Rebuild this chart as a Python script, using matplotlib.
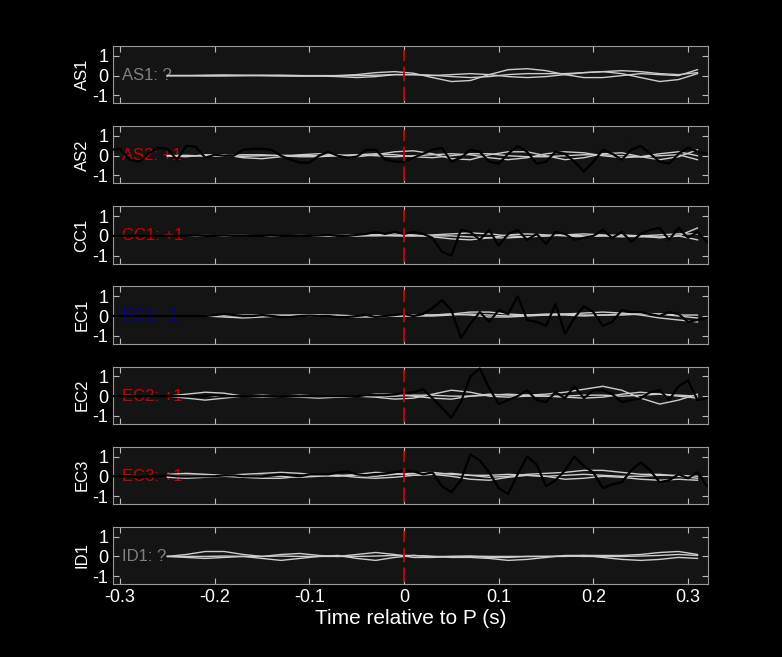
import numpy as np
import matplotlib.pyplot as plt

plt.rcParams['font.family'] = ['Liberation Sans', 'DejaVu Sans']

stations = ['AS1', 'AS2', 'CC1', 'EC1', 'EC2', 'EC3', 'ID1']
labels = ['AS1: ?', 'AS2: +1', 'CC1: +1', 'EC1: -1', 'EC2: +1', 'EC3: +1', 'ID1: ?']
label_colors = ['#808080', '#cc0000', '#cc0000', '#0000aa', '#cc0000', '#cc0000', '#808080']

# gray traces: samples every 0.02 s from -0.25 to 0.31
t_gray = np.round(np.arange(-0.25, 0.3101, 0.02), 3)
gray = {
    'AS1': [[0, 0, 0.02, 0.03, 0.02, 0, -0.02, -0.03, -0.02, 0, 0.05, 0.15, 0.2, 0.12, -0.1, -0.3, -0.25, 0.05, 0.3, 0.35, 0.25, 0.05, -0.1, -0.1, 0, 0.1, 0.05, 0.0, 0.3],
            [0, 0, -0.02, -0.02, 0, 0.02, 0.02, 0, -0.02, -0.05, -0.1, -0.05, 0.05, 0.05, 0, 0.05, 0.1, 0.05, -0.05, -0.1, -0.05, 0.05, 0.15, 0.2, 0.1, -0.1, -0.3, -0.2, 0.1],
            [0, 0, 0, 0.01, 0, 0, 0, 0, 0, 0, 0, 0.02, 0.05, 0.05, 0.02, -0.05, -0.1, -0.05, 0.05, 0.1, 0.1, 0.1, 0.15, 0.2, 0.25, 0.2, 0.1, 0.05, 0.15]],
    'AS2': [[0, -0.05, 0.05, 0.05, -0.1, -0.15, -0.05, 0.05, 0.1, 0.05, -0.05, 0.05, 0.2, 0.25, 0.1, -0.15, -0.2, 0.05, 0.2, 0.2, 0.0, -0.2, -0.1, 0.1, 0.15, -0.05, -0.2, -0.05, 0.3],
            [0, 0.02, -0.02, 0, 0.05, 0.05, 0, -0.05, -0.05, 0, 0.05, 0, -0.05, 0, 0.05, 0.1, 0.05, -0.1, -0.2, -0.1, 0.1, 0.2, 0.15, 0, -0.1, -0.05, 0.1, 0.2, 0],
            [0, 0, 0, -0.02, -0.03, 0, 0.02, 0.02, 0, 0, 0.05, 0.1, 0.05, -0.05, -0.1, 0, 0.1, 0.1, 0, -0.05, -0.05, 0, 0.05, 0.05, 0, -0.05, 0, 0.05, -0.2]],
    'CC1': [[0, 0, 0, 0.02, 0.02, 0, -0.02, 0, 0.02, 0, 0, 0.05, 0.1, 0.05, -0.05, -0.15, -0.2, -0.1, 0.05, 0.1, 0.05, 0, -0.05, 0, 0.05, 0, -0.1, 0, 0.4],
            [0, 0, 0, 0, -0.02, -0.02, 0, 0, 0, 0.02, 0.05, 0.05, 0, 0, 0.05, 0.1, 0.15, 0.1, 0, -0.05, 0, 0.05, 0.1, 0.05, 0, -0.05, -0.05, 0, -0.2],
            [0, 0, 0.02, 0, 0, 0, 0, 0.02, 0, 0, 0, 0, 0.02, 0, 0, 0, -0.05, -0.1, -0.1, -0.05, 0, 0.05, 0, 0, -0.05, 0, 0.05, 0.1, 0.1]],
    'EC1': [[0, 0, 0, -0.05, -0.1, -0.05, 0, 0.05, 0.05, 0, -0.05, -0.05, 0, 0.05, 0.05, 0.1, 0.2, 0.2, 0.1, 0.05, 0.05, 0.1, 0.15, 0.2, 0.15, 0.05, -0.1, -0.2, -0.3],
            [0, 0, 0.02, 0.05, 0.05, 0.05, 0.05, 0.05, 0.05, 0.05, 0, 0, 0, 0, 0, 0.05, 0.1, 0.05, 0, 0.05, 0.1, 0.1, 0.05, 0.05, 0.05, 0.1, 0.1, 0.05, 0.05],
            [0, 0, 0, 0, 0, 0, 0, 0, 0, 0, 0, 0, 0, 0.02, 0.05, 0.1, 0.05, -0.05, -0.05, 0, 0.05, 0.05, 0, 0.05, 0.1, 0.15, 0.1, 0, -0.1]],
    'EC2': [[0, 0.1, 0.2, 0.15, 0, -0.05, 0, 0.05, 0, -0.05, 0, 0.1, 0.1, 0, -0.1, -0.15, 0, 0.1, 0.05, 0.05, 0.1, 0.2, 0.35, 0.5, 0.3, -0.1, -0.4, -0.2, 0.1],
            [0, -0.1, -0.2, -0.1, 0, 0.05, 0, -0.05, -0.1, -0.05, 0, -0.05, -0.15, -0.1, 0.1, 0.3, 0.2, 0, -0.05, 0, 0, -0.05, -0.1, -0.05, 0.1, 0.2, 0.1, 0, -0.1],
            [0, 0, 0, 0, 0, 0, 0, 0, 0, 0, 0, 0, 0, 0.05, 0.05, 0, 0, 0.05, 0.1, 0.05, 0, 0, 0.05, 0.05, 0, 0.05, 0.1, 0.05, 0]],
    'EC3': [[0.1, 0.15, 0.1, 0.05, 0.1, 0.15, 0.2, 0.15, 0.05, 0, 0.1, 0.2, 0.15, 0.05, 0.1, 0.15, 0.05, -0.05, 0, 0.1, 0.15, 0.2, 0.3, 0.3, 0.2, 0.1, 0.1, 0, -0.1],
            [-0.05, -0.1, -0.05, 0, -0.05, -0.1, -0.1, 0, 0.05, 0.05, -0.05, -0.1, -0.05, 0.05, 0.1, 0, -0.15, -0.2, -0.05, 0.05, 0, -0.15, -0.1, 0, -0.05, -0.15, -0.2, -0.15, -0.2],
            [0, 0.05, 0.05, 0, 0, 0.05, 0, -0.05, 0, 0.05, 0.05, 0, 0.1, 0.15, 0.2, 0.1, 0.05, 0.05, 0.1, 0.05, 0, 0.05, 0.1, 0.05, 0, 0, 0.05, 0.05, 0]],
    'ID1': [[0, 0.1, 0.25, 0.25, 0.1, 0, 0.1, 0.15, 0.05, 0, 0.1, 0.2, 0.1, -0.05, -0.05, 0, 0, -0.05, -0.05, 0, 0, 0, 0.05, 0.05, 0.05, 0.1, 0.2, 0.25, 0.1],
            [0, -0.05, -0.1, -0.05, 0, -0.1, -0.2, -0.1, 0, 0.05, -0.1, -0.2, -0.05, 0.05, 0, -0.05, -0.05, -0.1, -0.2, -0.15, -0.05, 0.05, 0.05, -0.05, -0.15, -0.2, -0.15, -0.05, -0.1],
            [0, 0, 0, 0.02, 0, 0, 0.02, 0, 0, 0, 0, 0.02, 0.05, 0.05, 0, 0, 0.02, 0, 0, 0, 0, 0.02, 0, 0, 0, 0.02, 0.05, 0.1, 0.05]],
}

# black traces: samples every 0.01 s from -0.32 to 0.32
t_black = np.round(np.arange(-0.32, 0.3201, 0.01), 3)
black = {
    'AS2': [0, 0.3, 0.35, -0.2, -0.3, 0.1, 0.4, 0.35, -0.2, 0.5, 0.45, -0.1, 0.05, 0, 0, 0.3, 0.35, 0.35, 0.3, 0, -0.2, -0.35, -0.35, 0, 0.2, 0, -0.1, -0.05, 0.3, 0.3, -0.2, -0.3,
            -0.3, -0.1, 0.1, 0.3, 0.4, -0.3, -0.1, 0.3, 0.2, -0.3, -0.4, 0.1, 0.5, 0.2, -0.4, -0.3, 0.2, 0.1, -0.3, -0.8, -0.3, 0.3, 0.1, -0.2, 0.3, 0.5, 0.1, -0.3, -0.4, 0.1, 0.4, 0.2, 0.1],
    'CC1': [0, 0, 0, 0, 0.02, 0, 0, 0, 0, 0, 0.02, 0, 0, 0.02, 0, 0, 0, 0, 0.02, 0, 0, 0, 0, 0.02, 0.05, 0, 0, 0.05, 0.1, 0.2, 0.1, 0.2,
            0.1, 0.2, 0.1, -0.1, -0.8, -1.0, 0.3, 0.2, -0.2, 0.3, -0.5, 0.1, 0.3, -0.2, 0.1, -0.4, 0.2, 0.1, -0.2, -0.1, 0, 0.3, -0.1, 0.2, -0.3, 0.1, 0.3, 0.4, -0.2, 0.4, -0.1, 0.2, -0.3],
    'EC1': [0, 0, 0, 0, 0, 0, 0, 0, 0, 0, 0, 0, 0.05, 0.1, 0.05, 0, 0, 0.05, 0, -0.05, -0.05, 0, 0.02, 0, 0, -0.05, -0.05, 0, 0.05, -0.05, 0, 0.05,
            0.1, 0, 0.1, 0.4, 0.8, 0.3, -1.1, -0.4, 0.2, -0.3, 0.3, 0.1, 1.0, -0.2, -0.3, -0.5, 0.6, -0.9, -0.1, 0.5, 0.2, -0.5, -0.3, 0.3, 0.2, 0.2, 0.1, 0, 0.2, 0.1, -0.3, -0.2, -0.1],
    'EC2': [0, 0, 0, 0, 0, 0, 0, 0, 0, 0, 0, 0, 0.05, 0, 0, 0, 0, 0, 0, 0, 0, 0, 0, 0, 0, 0, 0, 0, 0.05, 0.05, 0.05, 0.1,
            0.15, 0.2, 0.35, -0.1, -0.6, -1.1, -0.3, 1.0, 1.4, 0.4, -0.4, -0.2, 0, 0.3, -0.2, -0.3, 0.2, -0.1, 0.5, -0.1, 0.3, 0.3, 0.1, -0.3, -0.2, -0.1, 0.2, 0.3, -0.2, 0.5, 0.8, -0.2, -0.1],
    'EC3': [0, 0, 0, 0, -0.05, 0, 0, 0.05, 0, 0, 0, 0, 0, 0.05, 0.05, 0, 0, 0, 0.05, 0.1, 0.05, 0, 0.1, 0.1, 0.1, 0.2, 0.25, 0.1, 0.05, 0.1, 0.15, 0.2,
            0.3, 0.25, 0.1, 0.2, -0.5, -0.8, -0.2, 1.1, 0.8, 0.2, -0.6, -0.9, 0.1, 1.0, 0.6, -0.5, -0.2, 0.3, 1.0, 0.5, 0.2, -0.6, -0.4, -0.3, 0.3, 0.7, 0.3, -0.3, -0.2, 0.1, -0.1, 0.2, -0.5],
}

fig, axes = plt.subplots(7, 1, figsize=(7.82, 6.57), dpi=100, sharex=True)
fig.patch.set_facecolor('black')
fig.subplots_adjust(left=0.1445, right=0.905, top=0.93, bottom=0.111, hspace=0.4)

for ax, st, lab, lc in zip(axes, stations, labels, label_colors):
    ax.set_facecolor('#141414')
    ax.text(-0.298, 0, lab, color=lc, fontsize=12, va='center', ha='left', zorder=1)
    for tr in gray[st]:
        ax.plot(t_gray, tr, color='#cccccc', lw=1.0, zorder=2)
    if st in black:
        ax.plot(t_black, black[st], color='black', lw=1.6, zorder=3)
    ax.plot([0, 0], [-1.3, 1.3], color='#cc0000', lw=1.3, dashes=(8, 3), zorder=4)
    ax.set_xlim(-0.3075, 0.3208)
    ax.set_ylim(-1.4, 1.5)
    ax.set_yticks([-1, 0, 1])
    ax.set_yticklabels(['-1', '0', '1'])
    ax.set_ylabel(st, color='white', fontsize=12, labelpad=2)
    ax.tick_params(direction='in', top=True, right=True, colors='#bbbbbb',
                   labelcolor='white', labelsize=13, length=4)
    for s in ax.spines.values():
        s.set_color('#999999')

axes[-1].set_xticks([-0.3, -0.2, -0.1, 0, 0.1, 0.2, 0.3])
axes[-1].set_xticklabels(['-0.3', '-0.2', '-0.1', '0', '0.1', '0.2', '0.3'])
axes[-1].set_xlabel('Time relative to P (s)', color='white', fontsize=15, labelpad=2)

fig.savefig('out.png', facecolor='black')
